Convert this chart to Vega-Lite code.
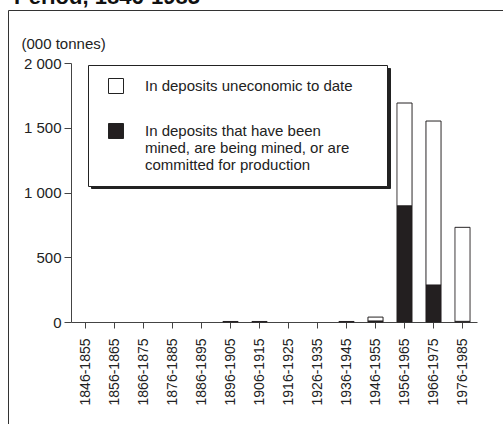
{
  "$schema": "https://vega.github.io/schema/vega-lite/v6.json",
  "autosize": {"type": "none"},
  "width": 406,
  "height": 259,
  "padding": {"left": 71, "top": 63, "right": 26, "bottom": 102},
  "background": "white",
  "title": {
    "text": "Period, 1846-1985",
    "anchor": "start",
    "frame": "group",
    "font": "Liberation Sans",
    "fontSize": 22,
    "fontWeight": "bold",
    "color": "#111",
    "baseline": "alphabetic",
    "dx": -57,
    "dy": 21,
    "offset": 5
  },
  "data": {
    "values": [
      {"period": "1896-1905", "type": "In deposits that have been|mined, are being mined, or are|committed for production", "value": 4},
      {"period": "1906-1915", "type": "In deposits that have been|mined, are being mined, or are|committed for production", "value": 4},
      {"period": "1936-1945", "type": "In deposits that have been|mined, are being mined, or are|committed for production", "value": 4},
      {"period": "1946-1955", "type": "In deposits that have been|mined, are being mined, or are|committed for production", "value": 8},
      {"period": "1946-1955", "type": "In deposits uneconomic to date", "value": 30},
      {"period": "1956-1965", "type": "In deposits that have been|mined, are being mined, or are|committed for production", "value": 898},
      {"period": "1956-1965", "type": "In deposits uneconomic to date", "value": 793},
      {"period": "1966-1975", "type": "In deposits that have been|mined, are being mined, or are|committed for production", "value": 286},
      {"period": "1966-1975", "type": "In deposits uneconomic to date", "value": 1266},
      {"period": "1976-1985", "type": "In deposits that have been|mined, are being mined, or are|committed for production", "value": 5},
      {"period": "1976-1985", "type": "In deposits uneconomic to date", "value": 726}
    ]
  },
  "mark": {"type": "bar", "stroke": "#231f20"},
  "encoding": {
    "x": {
      "field": "period",
      "type": "nominal",
      "scale": {
        "domain": ["1846-1855", "1856-1865", "1866-1875", "1876-1885", "1886-1895", "1896-1905", "1906-1915", "1916-1925", "1926-1935", "1936-1945", "1946-1955", "1956-1965", "1966-1975", "1976-1985"],
        "paddingInner": 0.48,
        "paddingOuter": 0.24
      },
      "axis": {
        "title": null,
        "labelAngle": -90,
        "labelFontSize": 14,
        "tickSize": 6,
        "labelPadding": 10
      }
    },
    "y": {
      "field": "value",
      "type": "quantitative",
      "aggregate": "sum",
      "stack": "zero",
      "scale": {"domain": [0, 2000], "nice": false},
      "axis": {
        "title": "(000 tonnes)",
        "titleAngle": 0,
        "titleAlign": "left",
        "titleBaseline": "middle",
        "titleX": -50,
        "titleY": -20,
        "titleFontWeight": "normal",
        "titleFontSize": 15,
        "labelFontSize": 15,
        "values": [0, 500, 1000, 1500, 2000],
        "labelExpr": "replace(format(datum.value, ','), ',', ' ')",
        "tickSize": 7,
        "labelPadding": 3
      }
    },
    "color": {
      "field": "type",
      "type": "nominal",
      "scale": {
        "domain": ["In deposits uneconomic to date", "In deposits that have been|mined, are being mined, or are|committed for production"],
        "range": ["white", "#231f20"]
      },
      "legend": {
        "title": null,
        "orient": "none",
        "legendX": 37,
        "legendY": 15,
        "zindex": 5,
        "strokeColor": null,
        "fillColor": null,
        "padding": 0,
        "symbolType": "square",
        "symbolSize": 225,
        "symbolOffset": 0,
        "symbolStrokeColor": "#222",
        "symbolStrokeWidth": 1,
        "labelOffset": 21,
        "labelFontSize": 15,
        "labelLimit": 500,
        "rowPadding": 25,
        "labelExpr": "split(datum.label, '|')"
      }
    },
    "strokeDash": {
      "field": "period",
      "type": "nominal",
      "scale": {"range": [[1, 0]]},
      "legend": {
        "title": null,
        "orient": "none",
        "values": ["1846-1855", "1856-1865"],
        "legendX": 17,
        "legendY": 2,
        "zindex": 4,
        "strokeColor": "#222",
        "fillColor": "white",
        "padding": 0,
        "symbolSize": 225,
        "symbolOffset": 282,
        "symbolOpacity": 0,
        "symbolStrokeColor": "white",
        "labelOffset": 0,
        "labelFontSize": 1,
        "labelExpr": "''",
        "rowPadding": 89
      }
    },
    "opacity": {
      "field": "type",
      "type": "nominal",
      "scale": {
        "domain": ["In deposits that have been|mined, are being mined, or are|committed for production", "In deposits uneconomic to date"],
        "range": [1, 1]
      },
      "legend": {
        "title": null,
        "orient": "none",
        "legendX": 20,
        "legendY": 5,
        "zindex": 2,
        "strokeColor": "#222",
        "fillColor": "#222",
        "padding": 0,
        "symbolType": "square",
        "symbolSize": 225,
        "symbolOffset": 280,
        "symbolOpacity": 0,
        "symbolFillColor": "#222",
        "symbolStrokeColor": "#222",
        "labelOffset": 0,
        "labelFontSize": 1,
        "labelExpr": "''",
        "rowPadding": 80
      }
    },
    "strokeWidth": {
      "field": "value",
      "type": "quantitative",
      "aggregate": "sum",
      "scale": {"range": [1, 1]},
      "legend": {
        "title": null,
        "orient": "none",
        "legendX": -63,
        "legendY": -53,
        "zindex": 1,
        "padding": 700,
        "strokeColor": "#333",
        "labelExpr": "''",
        "symbolOpacity": 0
      }
    },
    "order": {"field": "type", "sort": "ascending"}
  },
  "config": {
    "font": "Liberation Sans",
    "view": {"stroke": null},
    "axis": {
      "grid": false,
      "labelFont": "Liberation Sans",
      "titleFont": "Liberation Sans",
      "labelFontSize": 13,
      "labelColor": "#222",
      "titleColor": "#222",
      "domainColor": "#444",
      "tickColor": "#444"
    },
    "legend": {"labelFont": "Liberation Sans", "labelColor": "#222"}
  }
}
